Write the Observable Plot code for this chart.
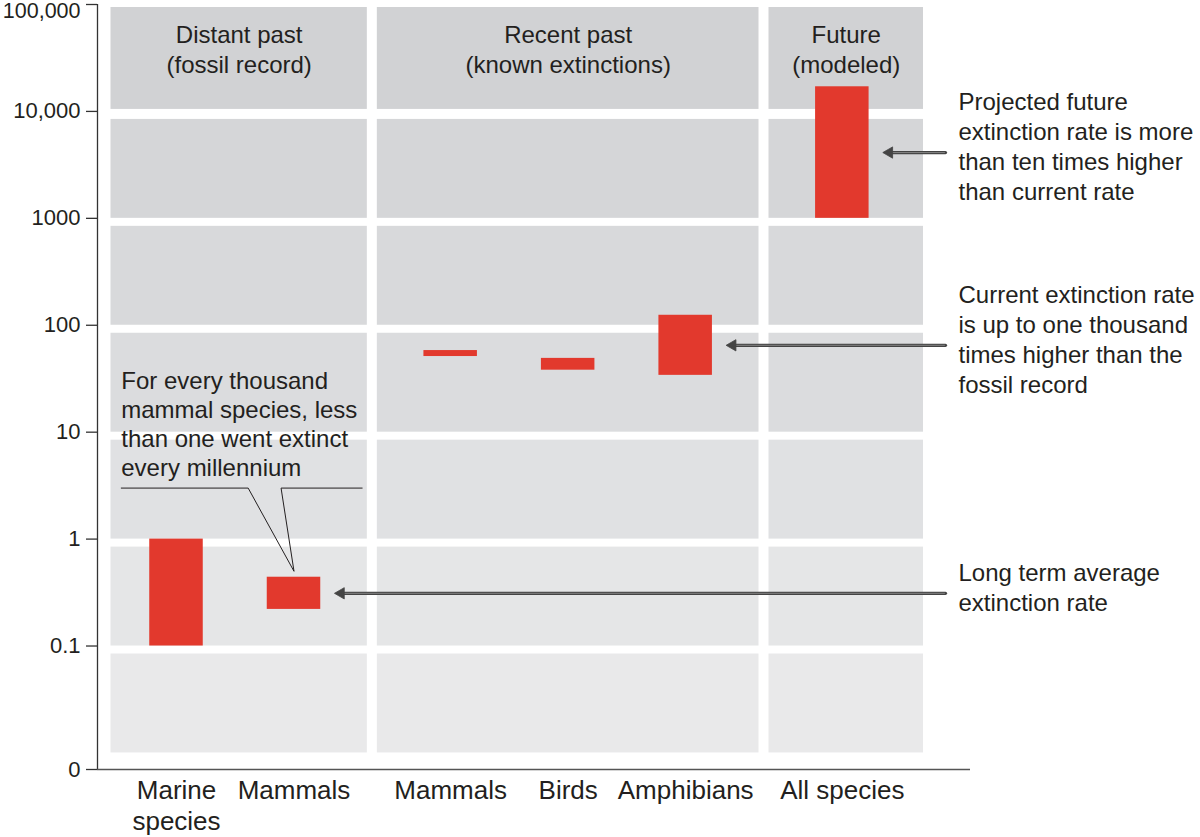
<!DOCTYPE html>
<html><head><meta charset="utf-8">
<script src="https://cdn.jsdelivr.net/npm/d3@7"></script>
<script src="https://cdn.jsdelivr.net/npm/@observablehq/plot@0.6"></script>
<style>
  html, body { margin: 0; padding: 0; background: #fff; }
  #chart svg { display: block; }
</style>
</head>
<body>
<div id="chart"></div>
<script>
// ---- data ----
const categories = ["Marine\nspecies", "Mammals", "Mammals", "Birds", "Amphibians", "All species"];
const categoryPeriod = [0, 0, 1, 1, 1, 2];
const periods = ["Distant past\n(fossil record)", "Recent past\n(known extinctions)", "Future\n(modeled)"];
const rateLow = [0.1, 0.22, 51, 38, 34, 1000];
const rateHigh = [1, 0.44, 58, 49, 124, 17000];
const yTickValues = [0.007, 0.1, 1, 10, 100, 1000, 10000, 100000];
const yTickLabels = ["0", "0.1", "1", "10", "100", "1000", "10,000", "100,000"];
const decadeFloors = [0.01, 0.1, 1, 10, 100, 1000, 10000];
const annotationTargets = [5, 4, 1];
const annotationTexts = [
  "Projected future\nextinction rate is more\nthan ten times higher\nthan current rate",
  "Current extinction rate\nis up to one thousand\ntimes higher than the\nfossil record",
  "Long term average\nextinction rate"
];
const calloutText = "For every thousand\nmammal species, less\nthan one went extinct\nevery millennium";
// leader line of the callout (slot units, rate units)
const calloutX = [-0.47, 0.61, 1, 0.89, 1.58];
const calloutY = [3, 3, 0.5, 3, 3];

// ---- layout constants / derived tables ----
const periodGap = 1 / 3;               // extra slot spacing between periods
const xDomain = [-0.6, 6.4];
const pos = categories.map((c, i) => i + periodGap * categoryPeriod[i]);
const bandFill = ["#e9e9ea", "#e5e6e7", "#e0e1e3", "#dbdcde", "#d8d9db", "#d5d6d8", "#d1d2d4"];
const bars = categories.map((c, i) => ({p: pos[i], lo: rateLow[i], hi: rateHigh[i]}));
const panels = periods.map((label, k) => {
  const idx = categoryPeriod.map((p, i) => p === k ? i : null).filter(v => v !== null);
  const a = d3.min(idx), b = d3.max(idx);
  const x1 = k === 0 ? xDomain[0] : (pos[a - 1] + pos[a]) / 2;
  const x2 = k === periods.length - 1 ? xDomain[1] : (pos[b] + pos[b + 1]) / 2;
  return {label, x1, x2, xc: (x1 + x2) / 2};
});
const cells = panels.flatMap(p => decadeFloors.map((f, j) => ({x1: p.x1, x2: p.x2, y1: f, y2: f * 10, fill: bandFill[j], top: j === decadeFloors.length - 1})));
const mid = i => Math.sqrt(rateLow[i] * rateHigh[i]);
const annotations = annotationTargets.map((t, k) => ({p: pos[t], y: mid(t), text: annotationTexts[k]}));
const calloutPath = calloutX.map((x, k) => ({x, y: calloutY[k]}));
const yTicks = yTickValues.map((v, i) => ({v, label: yTickLabels[i], top: i === yTickValues.length - 1}));
const ink = "#231f20";

const chart = Plot.plot({
  width: 1200,
  height: 837,
  marginLeft: 97,
  marginRight: 230,
  marginTop: 4,
  marginBottom: 68,
  style: {fontFamily: "'Liberation Sans', Arial, Helvetica, sans-serif", color: ink, background: "#fff"},
  x: {type: "linear", domain: xDomain, insetLeft: 8.5, insetRight: 42},
  y: {type: "log", domain: [yTickValues[0], yTickValues[yTickValues.length - 1]], axis: null},
  color: {type: "identity"},
  marks: [
    Plot.rect(cells.filter(d => !d.top), {x1: "x1", x2: "x2", y1: "y1", y2: "y2", fill: "fill", insetTop: 8, insetLeft: 5, insetRight: 5}),
    Plot.rect(cells.filter(d => d.top), {x1: "x1", x2: "x2", y1: "y1", y2: "y2", fill: "fill", insetTop: 3, insetBottom: 2, insetLeft: 5, insetRight: 5}),
    Plot.text(panels, {x: "xc", y: () => yTickValues[yTickValues.length - 1], text: "label", lineAnchor: "top", dy: 17, fontSize: 24, lineHeight: 1.25, fill: ink}),
    Plot.rect(bars, {x1: d => d.p - 0.5, x2: d => d.p + 0.5, y1: "lo", y2: "hi", insetLeft: 32, insetRight: 32, fill: "#e2392d"}),
    Plot.ruleX([xDomain[0]], {dx: -8.5, stroke: "#333", strokeWidth: 1.3}),
    Plot.ruleY([yTickValues[0]], {stroke: "#555", strokeWidth: 1.5}),
    Plot.ruleY(yTicks, {y: "v", x1: () => xDomain[0], x2: () => xDomain[0], dx: -8.5, insetLeft: -11, stroke: "#333", strokeWidth: 1.3}),
    Plot.text(yTicks.filter(d => !d.top), {y: "v", frameAnchor: "left", dx: -17, text: "label", textAnchor: "end", fontSize: 22, fill: ink}),
    Plot.text(yTicks.filter(d => d.top), {y: "v", frameAnchor: "left", dx: -17, dy: 7, text: "label", textAnchor: "end", fontSize: 21.5, fill: ink}),
    Plot.axisX({ticks: pos, tickFormat: p => categories[pos.indexOf(p)], tickSize: 0, tickPadding: 7, fontSize: 26, lineHeight: 1.2, label: null, anchor: "bottom"}),
    Plot.arrow(annotations, {x1: () => xDomain[1], y1: "y", x2: "p", y2: "y", insetStart: -17, insetEnd: 47, stroke: "#444", strokeWidth: 3.2, headLength: 0}),
    Plot.arrow(annotations, {x1: () => xDomain[1], y1: "y", x2: "p", y2: "y", insetStart: -16, insetEnd: 50, stroke: "#8a8a8a", strokeWidth: 0.9, headLength: 0}),
    Plot.dot(annotations, {x: "p", y: "y", dx: 47, symbol: "triangle", r: 4.2, rotate: -90, fill: "#444", stroke: "#444", strokeWidth: 0.8}),
    Plot.text(annotations, {y: "y", frameAnchor: "right", dx: -12, dy: -7, text: "text", textAnchor: "start", lineAnchor: "middle", fontSize: 24, lineHeight: 1.25, fill: ink}),
    Plot.line(calloutPath, {x: "x", y: "y", stroke: ink, strokeWidth: 1}),
    Plot.text([calloutText], {x: () => calloutX[0], y: () => calloutY[0], text: d => d, textAnchor: "start", lineAnchor: "bottom", dy: -12, fontSize: 24, lineHeight: 1.21, fill: ink})
  ]
});
document.getElementById("chart").appendChild(chart);
</script>
</body></html>
